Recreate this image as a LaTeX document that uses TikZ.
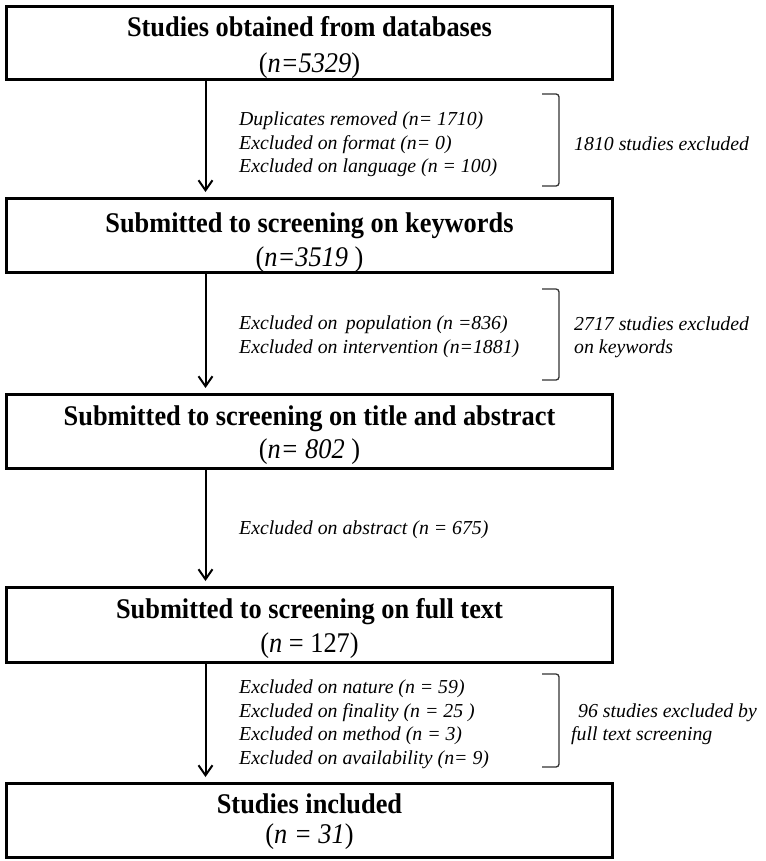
\documentclass[tikz,border=0pt]{standalone}
\usepackage{fontspec}
\setmainfont{Liberation Serif}
\newfontfamily\tfont{Liberation Serif}[FakeStretch=0.925]
\usetikzlibrary{arrows.meta}
\begin{document}
\begin{tikzpicture}[x=1pt,y=-1pt,
  box/.style={draw, line width=3pt, minimum width=606pt, inner sep=0pt, rectangle},
  ttl/.style={anchor=base, inner sep=0pt, font=\tfont\fontsize{28.5}{34}\selectfont\bfseries},
  cnt/.style={anchor=base, inner sep=0pt, font=\tfont\fontsize{28.5}{34}\selectfont},
  lbl/.style={anchor=base west, inner sep=0pt, font=\fontsize{19.8}{23.5}\selectfont\itshape},
  arr/.style={line width=2pt, -{Straight Barb[length=10pt,width=14pt]}, shorten >=5pt},
  brk/.style={line width=1.3pt, draw=black!80, rounded corners=3pt}]
\useasboundingbox (0,0) rectangle (765,861);
\fill[white] (0,0) rectangle (765,861);
% boxes
\node[box, minimum height=73pt] (b1) at (309.5,43) {};
\node[box, minimum height=74pt] (b2) at (309.5,235.5) {};
\node[box, minimum height=74pt] (b3) at (309.5,431.5) {};
\node[box, minimum height=75pt] (b4) at (309.5,625) {};
\node[box, minimum height=74pt] (b5) at (309.5,820.5) {};
% box texts
\node[ttl] (t1) at (309.5,37) {Studies obtained from databases};
\node[cnt] (n1) at (309.5,73) {(\textit{n=5329})};
\node[ttl] (t2) at (309.5,232) {Submitted to screening on keywords};
\node[cnt] (n2) at (309.5,266) {(\textit{n=3519} )};
\node[ttl] (t3) at (309.5,425) {Submitted to screening on title and abstract};
\node[cnt] (n3) at (309.5,458) {(\textit{n= 802} )};
\node[ttl] (t4) at (309.5,618) {Submitted to screening on full text};
\node[cnt] (n4) at (309.5,652) {(\textit{n} = 127)};
\node[ttl] (t5) at (309.5,813) {Studies included};
\node[cnt] (n5) at (309.5,843) {(\textit{n = 31})};
% arrows
\coordinate (ax) at (205.5,0);
\draw[arr] (b1.south -| ax) -- (b2.north -| ax);
\draw[arr] (b2.south -| ax) -- (b3.north -| ax);
\draw[arr] (b3.south -| ax) -- (b4.north -| ax);
\draw[arr] (b4.south -| ax) -- (b5.north -| ax);
% group 1
\node[lbl] (l11) at (239,126) {Duplicates removed (n= 1710)};
\node[lbl] (l12) at (239,149.5) {Excluded on format (n= 0)};
\node[lbl] (l13) at (239,173) {Excluded on language (n = 100)};
\draw[brk] (542,94) -- (559,94) -- (559,186) -- (542,186);
\node[lbl] (r1) at (574,151) {1810 studies excluded};
% group 2
\node[lbl] (l21) at (239,329.5) {Excluded on\, population (n =836)};
\node[lbl] (l22) at (239,353) {Excluded on intervention (n=1881)};
\draw[brk] (542,289) -- (559,289) -- (559,380) -- (542,380);
\node[lbl] (r21) at (574,330) {2717 studies excluded};
\node[lbl] (r22) at (574,353.5) {on keywords};
% group 3
\node[lbl] (l31) at (239,534) {Excluded on abstract (n = 675)};
% group 4
\node[lbl] (l41) at (239,693.5) {Excluded on nature (n = 59)};
\node[lbl] (l42) at (239,717) {Excluded on finality (n = 25 )};
\node[lbl] (l43) at (239,740.5) {Excluded on method (n = 3)};
\node[lbl] (l44) at (239,764) {Excluded on availability (n= 9)};
\draw[brk] (542,674) -- (559,674) -- (559,767) -- (542,767);
\node[lbl] (r41) at (578,717) {96 studies excluded by};
\node[lbl] (r42) at (571,740) {full text screening};
\end{tikzpicture}
\end{document}
